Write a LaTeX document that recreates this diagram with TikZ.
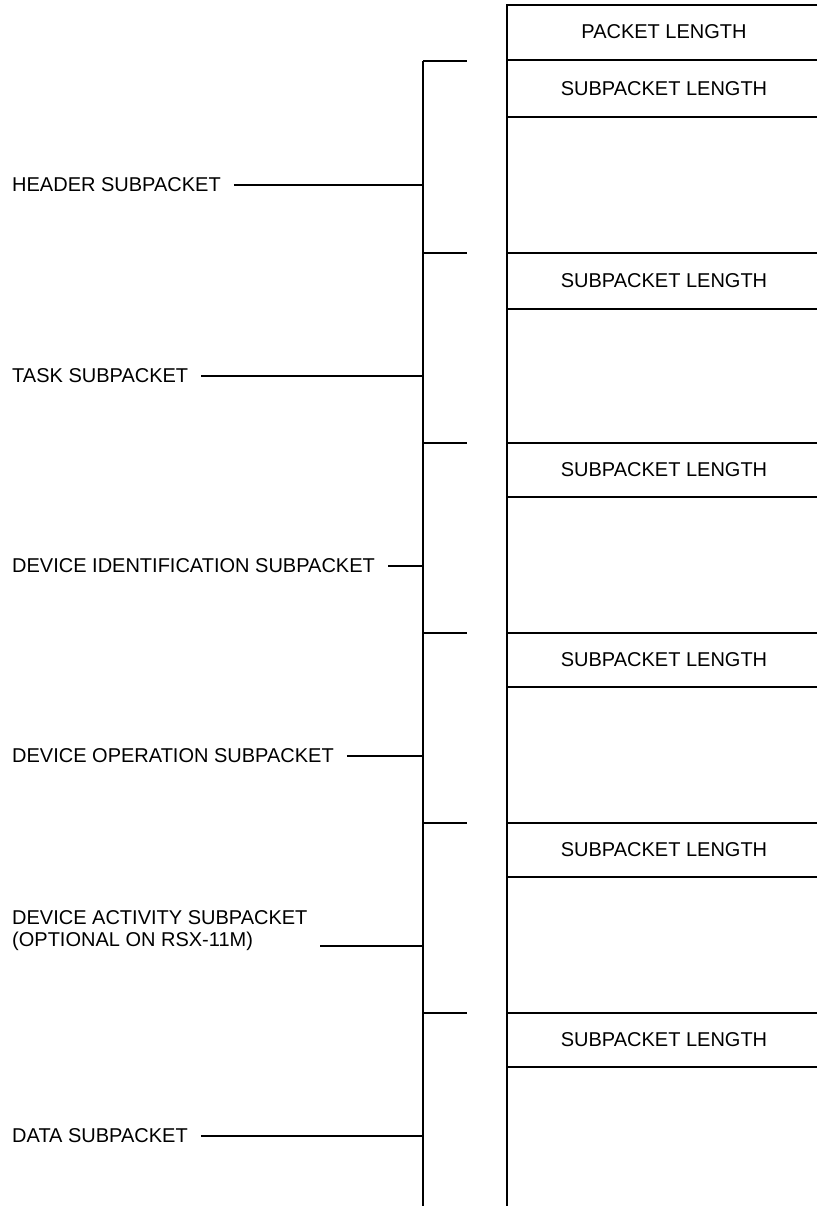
\documentclass[tikz,border=0pt]{standalone}
\usepackage{fontspec}
\setmainfont{Liberation Sans}
\begin{document}
\begin{tikzpicture}[x=1pt,y=-1pt,
  txt/.style={font=\fontsize{20}{24}\selectfont, inner sep=0pt},
  lbl/.style={txt, anchor=west},
  boxline/.style={line width=2.2pt},
  brk/.style={line width=2.6pt},
  tickline/.style={line width=2pt}]
\useasboundingbox (0,0) rectangle (817,1206);
% packet box
\draw[boxline] (817,5) -- (507,5) -- (507,1206);
\foreach \y in {60,117,253,309,443,497,633,687,823,877,1013,1067}
  \draw[boxline] (507,\y) -- (817,\y);
\node[txt] (pl) at (664,32) {PACKET LENGTH};
\node[txt] (sl1) at (664,89) {SUBPACKET LENGTH};
\node[txt] (sl2) at (664,281) {SUBPACKET LENGTH};
\node[txt] (sl3) at (664,470) {SUBPACKET LENGTH};
\node[txt] (sl4) at (664,660) {SUBPACKET LENGTH};
\node[txt] (sl5) at (664,850) {SUBPACKET LENGTH};
\node[txt] (sl6) at (664,1040) {SUBPACKET LENGTH};
% bracket
\coordinate (btop) at (423,61);
\coordinate (bbot) at (423,1206);
\draw[brk] (btop) -- (bbot);
\foreach \y in {61,253,443,633,823,1013}
  \draw[tickline] (423,\y) -- (467,\y);
% labels
\node[lbl] (hdr) at (12,185) {HEADER SUBPACKET};
\node[lbl] (task) at (12,376) {TASK SUBPACKET};
\node[lbl] (devid) at (12,566) {DEVICE IDENTIFICATION SUBPACKET};
\node[lbl] (devop) at (12,756) {DEVICE OPERATION SUBPACKET};
\node[lbl] (act1) at (12,918) {DEVICE ACTIVITY SUBPACKET};
\node[lbl] (act2) at (12,941) {(OPTIONAL ON RSX-11M)};
\node[lbl] (data) at (12,1136) {DATA SUBPACKET};
\coordinate (actlead) at (320,946);
% leaders
\foreach \n in {hdr,task,devid,devop,data}
  \draw[tickline] ([xshift=13pt]\n.east) -- (\n.east -| btop);
\draw[tickline] (actlead) -- (actlead -| btop);
\end{tikzpicture}
\end{document}
